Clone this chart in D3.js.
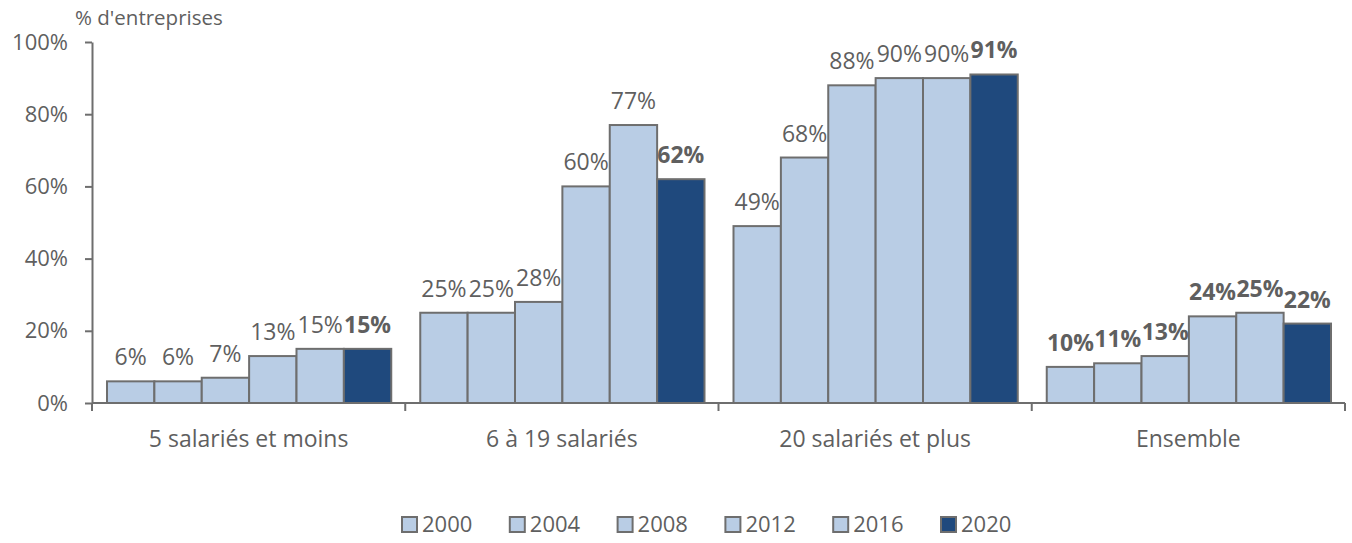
<!DOCTYPE html>
<html><head><meta charset="utf-8">
<script src="https://cdn.jsdelivr.net/npm/d3@7"></script>
<style>body{margin:0;background:#fff}svg{display:block}text{font-family:"Open Sans",sans-serif;fill:#5f5f5f}</style>
</head><body><svg id="c" width="1352" height="543"></svg>
<script>
const categories = ["5 salariés et moins", "6 à 19 salariés", "20 salariés et plus", "Ensemble"];
const years = ["2000", "2004", "2008", "2012", "2016", "2020"];
const values = {
  "2000": [6, 25, 49, 10],
  "2004": [6, 25, 68, 11],
  "2008": [7, 28, 88, 13],
  "2012": [13, 60, 90, 24],
  "2016": [15, 77, 90, 25],
  "2020": [15, 62, 91, 22]
};
const yTicks = [0, 20, 40, 60, 80, 100];
const yTitle = "% d'entreprises";

const svg = d3.select("#c");
const light = "#B9CDE5", dark = "#1F497D", stroke = "#6E6E6E";
const x0 = d3.scaleBand().domain(categories).range([92, 1345]).padding(0);
const x1 = d3.scaleBand().domain(years).range([15, x0.bandwidth() - 14]).padding(0);
const y = d3.scaleLinear().domain([0, 100]).range([403, 42]);
const color = yr => yr === "2020" ? dark : light;

// y axis
const ya = svg.append("g").attr("transform", "translate(92,0)")
  .call(d3.axisLeft(y).tickValues(yTicks).tickFormat(d => d + "%").tickSize(7).tickSizeOuter(0));
ya.select(".domain").attr("stroke", stroke).attr("stroke-width", 2);
ya.selectAll(".tick line").attr("stroke", stroke).attr("stroke-width", 2);
ya.selectAll(".tick text").attr("x", -24).style("font-size", "22px").style("fill", "#5f5f5f").attr("font-family", "Open Sans");

svg.append("text").attr("x", 75).attr("y", 25).style("font-size", "20.5px").text(yTitle);

// bars
const groups = svg.append("g").selectAll("g").data(categories).join("g")
  .attr("transform", d => `translate(${x0(d)},0)`);
groups.each(function(cat, ci) {
  const g = d3.select(this);
  years.forEach(yr => {
    const v = values[yr][ci];
    g.append("rect").attr("x", x1(yr)).attr("y", y(v)).attr("width", x1.bandwidth())
      .attr("height", y(0) - y(v)).attr("fill", color(yr)).attr("stroke", stroke).attr("stroke-width", 2);
  });
  years.forEach(yr => {
    const v = values[yr][ci];
    const bold = yr === "2020" || cat === "Ensemble";
    g.append("text").attr("x", x1(yr) + x1.bandwidth() / 2).attr("y", y(v) - 16)
      .attr("text-anchor", "middle").style("font-size", "23px")
      .style("font-weight", bold ? "bold" : "normal").text(v + "%");
  });
});

// x axis
svg.append("line").attr("x1", 92).attr("x2", 1345).attr("y1", y(0)).attr("y2", y(0))
  .attr("stroke", stroke).attr("stroke-width", 2);
categories.concat([null]).forEach((c, i) => {
  const xx = 92 + i * x0.bandwidth();
  svg.append("line").attr("x1", xx).attr("x2", xx).attr("y1", y(0)).attr("y2", y(0) + 8)
    .attr("stroke", stroke).attr("stroke-width", 2);
});
svg.append("g").selectAll("text").data(categories).join("text")
  .attr("x", d => x0(d) + x0.bandwidth() / 2).attr("y", 447).attr("text-anchor", "middle")
  .style("font-size", "23px").text(d => d);

// legend
const lg = svg.append("g").attr("transform", "translate(402,0)");
years.forEach((yr, i) => {
  const gx = i * 107.8;
  lg.append("rect").attr("x", gx).attr("y", 517).attr("width", 15).attr("height", 15)
    .attr("fill", color(yr)).attr("stroke", stroke).attr("stroke-width", 2);
  lg.append("text").attr("x", gx + 20).attr("y", 532).style("font-size", "22px").text(yr);
});
</script></body></html>
